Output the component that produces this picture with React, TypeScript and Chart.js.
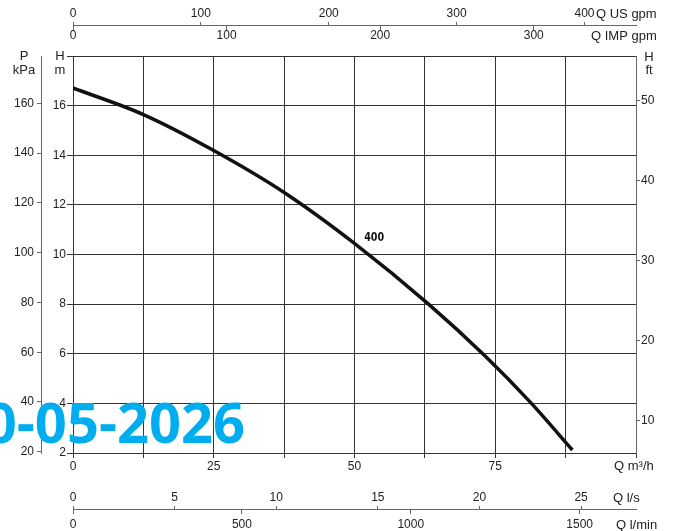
import React, { useEffect, useRef } from 'react';
import { Chart, registerables } from 'chart.js';

Chart.register(...registerables);

// ---- data ----
const flowM3h = [0, 12.5, 25, 37.7, 50.1, 63.1, 73.2, 81.3, 88.7];
const headM = [16.71, 15.64, 14.19, 12.47, 10.43, 8.01, 5.91, 4.03, 2.12];
const curveName = '400';
const curveLabelQ = 53.5;
const curveLabelH = 10.67;

const qM3hRange = [0, 100];
const qM3hTicks = [0, 12.5, 25, 37.5, 50, 62.5, 75, 87.5, 100];
const qM3hLabels = [0, 25, 50, 75];
const qUsGpmRange = [0, 440.3];
const qUsGpmTicks = [0, 100, 200, 300, 400];
const qImpGpmRange = [0, 366.6];
const qImpGpmTicks = [0, 100, 200, 300];
const qLsRange = [0, 27.7];
const qLsTicks = [0, 5, 10, 15, 20, 25];
const qLminRange = [0, 1666.7];
const qLminTicks = [0, 500, 1000, 1500];
const hMRange = [2, 18];
const hMTicks = [2, 4, 6, 8, 10, 12, 14, 16, 18];
const hMHidden = [18];
const pKpaRange = [19.5, 179];
const pKpaTicks = [20, 40, 60, 80, 100, 120, 140, 160];
const hFtRange = [6, 55.6];
const hFtTicks = [10, 20, 30, 40, 50];

const unitTexts = ['Q US gpm', 'Q IMP gpm', 'Q m³/h', 'Q l/s', 'Q l/min'];
const axisTitles = [['P', 'kPa'], ['H', 'm'], ['H', 'ft']];
const watermark = '0-05-2026';

const FONT = '"Liberation Sans", Arial, Helvetica, sans-serif';
const TEXT = '#222';
const GRID = '#333';
const AXIS = '#666';

const setTicks = (values: number[]) => (s: any) => {
  s.ticks = values.map((v) => ({ value: v }));
};

export default function App() {
  const ref = useRef<HTMLCanvasElement>(null);

  useEffect(() => {
    const canvas = ref.current;
    if (!canvas) return;
    const tickFont = { family: FONT, size: 12 };

    const textPlugin = {
      id: 'texts',
      afterDraw(chart: any) {
        const ctx = chart.ctx as CanvasRenderingContext2D;
        ctx.save();
        ctx.fillStyle = TEXT;
        ctx.font = `13px ${FONT}`;
        ctx.textBaseline = 'middle';
        ctx.textAlign = 'left';
        ctx.fillText(unitTexts[0], 596, 14);
        ctx.fillText(unitTexts[1], 591, 36);
        ctx.fillText(unitTexts[2], 614, 466);
        ctx.fillText(unitTexts[3], 613, 498);
        ctx.fillText(unitTexts[4], 616, 525);
        ctx.textAlign = 'center';
        ctx.fillText(axisTitles[0][0], 24, 56);
        ctx.fillText(axisTitles[0][1], 24, 70);
        ctx.fillText(axisTitles[1][0], 60, 56);
        ctx.fillText(axisTitles[1][1], 60, 70);
        ctx.fillText(axisTitles[2][0], 649, 57);
        ctx.fillText(axisTitles[2][1], 649, 70);

        const x = chart.scales.x.getPixelForValue(curveLabelQ);
        const y = chart.scales.y.getPixelForValue(curveLabelH);
        ctx.fillStyle = '#111';
        ctx.font = 'bold 13px "Liberation Sans Narrow", "DejaVu Sans Condensed", sans-serif';
        ctx.save();
        ctx.translate(x, y);
        ctx.scale(0.82, 1);
        ctx.fillText(curveName, 0, 0);
        ctx.restore();

        ctx.font = 'bold 56px "Open Sans", "Noto Sans", sans-serif';
        ctx.fillStyle = '#00aeef';
        ctx.textAlign = 'right';
        ctx.textBaseline = 'alphabetic';
        ctx.fillText(watermark, 245, 443);
        ctx.restore();
      },
    };

    const secondaryX = (range: number[], ticks: number[], posY: number, tl: number, pad: number) => ({
      type: 'linear',
      position: { y: posY },
      min: range[0],
      max: range[1],
      afterBuildTicks: setTicks(ticks),
      ticks: {
        autoSkip: false,
        maxRotation: 0,
        padding: pad,
        color: TEXT,
        font: tickFont,
        callback: (v: any) => String(v),
      },
      grid: { drawOnChartArea: false, drawTicks: true, tickLength: tl, color: AXIS, lineWidth: 1 },
      border: { display: true, color: AXIS, width: 1 },
    });

    const chart = new Chart(canvas, {
      type: 'line',
      data: {
        datasets: [
          {
            data: flowM3h.map((q, i) => ({ x: q, y: headM[i] })),
            borderColor: '#111',
            borderWidth: 3.5,
            pointRadius: 0,
            fill: false,
            cubicInterpolationMode: 'monotone',
            xAxisID: 'x',
            yAxisID: 'y',
          },
        ],
      },
      options: {
        animation: false,
        responsive: true,
        maintainAspectRatio: false,
        layout: { padding: { top: 56, left: 0, right: 0, bottom: 0 } },
        plugins: { legend: { display: false }, tooltip: { enabled: false } },
        scales: {
          x: {
            type: 'linear',
            position: 'bottom',
            min: qM3hRange[0],
            max: qM3hRange[1],
            afterFit: (s: any) => { s.height = 78; },
            afterBuildTicks: setTicks(qM3hTicks),
            ticks: {
              autoSkip: false,
              maxRotation: 0,
              padding: 1,
              color: TEXT,
              font: tickFont,
              callback: (v: any) => (qM3hLabels.includes(Number(v)) ? String(v) : ''),
            },
            grid: { color: GRID, lineWidth: 1, tickLength: 5 },
            border: { color: GRID, width: 1 },
          },
          xUs: secondaryX(qUsGpmRange, qUsGpmTicks, 19.21, -4, -15.2),
          xImp: secondaryX(qImpGpmRange, qImpGpmTicks, 19.21, 4, -1.2),
          xLs: secondaryX(qLsRange, qLsTicks, -0.28, -4, -14.7),
          xLmin: secondaryX(qLminRange, qLminTicks, -0.28, 4, 4.3),
          y: {
            type: 'linear',
            position: 'left',
            weight: 0,
            min: hMRange[0],
            max: hMRange[1],
            afterFit: (s: any) => { s.width = 32; },
            afterBuildTicks: setTicks(hMTicks),
            ticks: {
              autoSkip: false,
              padding: 1,
              color: TEXT,
              font: tickFont,
              callback: (v: any) => (hMHidden.includes(Number(v)) ? '' : String(v)),
            },
            grid: { color: GRID, lineWidth: 1, tickLength: 6 },
            border: { color: GRID, width: 1 },
          },
          yKpa: {
            type: 'linear',
            position: 'left',
            weight: 1,
            min: pKpaRange[0],
            max: pKpaRange[1],
            afterFit: (s: any) => { s.width = 41; },
            afterBuildTicks: setTicks(pKpaTicks),
            ticks: { autoSkip: false, padding: 3, color: TEXT, font: tickFont, callback: (v: any) => String(v) },
            grid: { drawOnChartArea: false, tickLength: 4, color: AXIS },
            border: { color: AXIS, width: 1 },
          },
          yFt: {
            type: 'linear',
            position: 'right',
            min: hFtRange[0],
            max: hFtRange[1],
            afterFit: (s: any) => { s.width = 38; },
            afterBuildTicks: setTicks(hFtTicks),
            ticks: { autoSkip: false, padding: 1, color: TEXT, font: tickFont, callback: (v: any) => String(v) },
            grid: { drawOnChartArea: false, tickLength: 4, color: AXIS },
            border: { color: AXIS, width: 1 },
          },
        } as any,
      },
      plugins: [textPlugin],
    } as any);

    return () => chart.destroy();
  }, []);

  return (
    <div style={{ position: 'fixed', left: 0, top: 0, width: 674, height: 531, background: '#fff' }}>
      <canvas ref={ref} />
    </div>
  );
}
